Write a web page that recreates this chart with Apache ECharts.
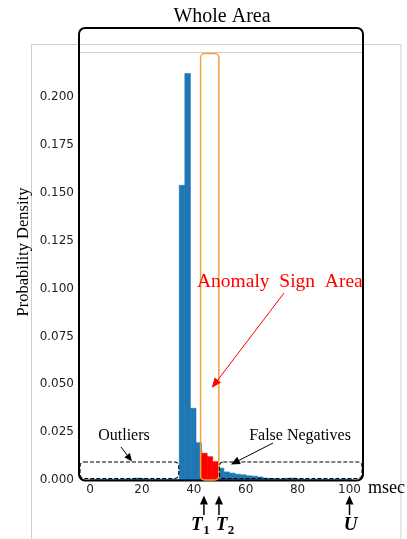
<!DOCTYPE html>
<html><head><meta charset="utf-8">
<script src="https://cdn.jsdelivr.net/npm/echarts@6/dist/echarts.min.js"></script>
<style>html,body{margin:0;padding:0;background:#fff}#c{width:407px;height:539px}</style>
</head><body><div id="c"></div>
<script>
// ---- data ----
const binStart = 0;
const binWidth = 2.15;
const density = [
  0.0003, 0.0003, 0.0003, 0.0003, 0.0003, 0.0003, 0.0004, 0.0005,
  0.0010, 0.0008, 0.0004, 0.0003, 0.0003, 0.0003, 0.0004, 0.0003,
  0.154, 0.2125, 0.0375, 0.0195, 0.0140, 0.0122, 0.0096,
  0.0062, 0.0042, 0.0036, 0.0030, 0.0027, 0.0022, 0.0020, 0.0016,
  0.0010, 0.0008, 0.0006, 0.0005, 0.0009, 0.0010, 0.0005, 0.0004,
  0.0003, 0.0003, 0.0003, 0.0003, 0.0003, 0.0003, 0.0003, 0.0003
];
const anomalyRange = [43.0, 49.45];
const outlierEnd = 34.4;
const markerNames = ['T', 'T', 'U'];
const markerSubs = ['1', '2', ''];
const markerValues = [43.9, 49.7, 100];
const xTicks = [0, 20, 40, 60, 80, 100];
const yTicks = [0, 0.025, 0.05, 0.075, 0.1, 0.125, 0.15, 0.175, 0.2];
const xRange = [-4.24, 105.2];
const yRange = [0, 0.2237];

// ---- build ----
const blueBins = [], redBins = [];
density.forEach((v, i) => {
  const s = binStart + i * binWidth, e = s + binWidth;
  const item = [s, e, v];
  if (s >= anomalyRange[0] - 1e-6 && e <= anomalyRange[1] + 1e-6) redBins.push(item);
  else blueBins.push(item);
});
function renderBar(color) {
  return function (params, api) {
    const p0 = api.coord([api.value(0), api.value(2)]);
    const p1 = api.coord([api.value(1), 0]);
    return { type: 'rect', shape: { x: p0[0], y: p0[1], width: p1[0] - p0[0], height: p1[1] - p0[1] },
      style: { fill: color, stroke: color, lineWidth: 0.6 } };
  };
}
const SERIF = 'Liberation Serif';
const chart = echarts.init(document.getElementById('c'), null, { renderer: 'canvas' });
chart.setOption({
  animation: false,
  backgroundColor: '#fff',
  grid: { left: 79, right: 44, top: 52, bottom: 59, containLabel: false },
  xAxis: {
    type: 'value', min: xRange[0], max: xRange[1],
    axisLine: { show: false }, splitLine: { show: false },
    axisTick: { show: false },
    axisLabel: { customValues: xTicks, margin: 4, fontFamily: 'DejaVu Sans', fontSize: 12, color: '#222' }
  },
  yAxis: {
    type: 'value', min: yRange[0], max: yRange[1],
    axisLine: { show: false }, splitLine: { show: false },
    axisTick: { show: false },
    axisLabel: { customValues: yTicks, margin: 5, fontFamily: 'DejaVu Sans', fontSize: 12, color: '#222',
      formatter: v => v.toFixed(3) }
  },
  series: [
    { type: 'custom', renderItem: renderBar('#1f77b4'), data: blueBins, encode: { x: [0, 1], y: 2 } },
    { type: 'custom', renderItem: renderBar('#ff0000'), data: redBins, encode: { x: [0, 1], y: 2 } }
  ]
});

function px(x) { return chart.convertToPixel({ xAxisIndex: 0 }, x); }
function py(y) { return chart.convertToPixel({ yAxisIndex: 0 }, y); }
function arrow(x1, y1, x2, y2, color, lw, hl, hw) {
  const a = Math.atan2(y2 - y1, x2 - x1);
  const bx = x2 - hl * Math.cos(a), by = y2 - hl * Math.sin(a);
  const ox = -Math.sin(a) * hw / 2, oy = Math.cos(a) * hw / 2;
  return [
    { type: 'line', z: 100, shape: { x1: x1, y1: y1, x2: bx, y2: by }, style: { stroke: color, lineWidth: lw } },
    { type: 'polygon', z: 100, shape: { points: [[x2, y2], [bx + ox, by + oy], [bx - ox, by - oy]] }, style: { fill: color } }
  ];
}
const y0 = py(0);
const left = px(xRange[0]), right = px(xRange[1]);
const g = [];
// outer light frame
g.push({ type: 'rect', z: 1, shape: { x: 31.5, y: 44.5, width: 369.5, height: 520 }, style: { fill: null, stroke: '#cfcfcf', lineWidth: 1 } });
g.push({ type: 'line', z: 1, shape: { x1: left, y1: 52.5, x2: right, y2: 52.5 }, style: { stroke: '#cfcfcf', lineWidth: 1 } });
// whole area box
g.push({ type: 'rect', z: 100, shape: { x: left, y: 28, width: right - left, height: y0 + 0.5 - 28, r: 6 }, style: { fill: null, stroke: '#000', lineWidth: 2 } });
g.push({ type: 'text', z: 100, x: (left + right) / 2 + 1, y: 17, style: { text: 'Whole Area', font: '20px "' + SERIF + '"', fill: '#000', align: 'center', verticalAlign: 'middle' } });
// y label
g.push({ type: 'text', z: 100, x: 24, y: 252, rotation: Math.PI / 2, style: { text: 'Probability Density', font: '16.5px "' + SERIF + '"', fill: '#000', align: 'center', verticalAlign: 'middle' } });
// msec
g.push({ type: 'text', z: 100, x: 368, y: 488, style: { text: 'msec', font: '18px "' + SERIF + '"', fill: '#000', align: 'left', verticalAlign: 'middle' } });
// anomaly box
const ax0 = px(anomalyRange[0]) - 1, ax1 = px(anomalyRange[1]) + 0.5;
g.push({ type: 'rect', z: 100, shape: { x: ax0, y: 53.5, width: ax1 - ax0, height: y0 - 53.5, r: 4 }, style: { fill: null, stroke: '#f7a03a', lineWidth: 1.5 } });
// dashed boxes
g.push({ type: 'rect', z: 100, shape: { x: left + 1, y: 462, width: px(outlierEnd) - 0.5 - left - 1, height: 16.5, r: 4 }, style: { fill: null, stroke: '#000', lineWidth: 1.1, lineDash: [4, 2] } });
g.push({ type: 'rect', z: 100, shape: { x: ax1 + 0.5, y: 462, width: right - 1 - ax1 - 0.5, height: 16.5, r: 4 }, style: { fill: null, stroke: '#000', lineWidth: 1.1, lineDash: [4, 2] } });
// labels
g.push({ type: 'text', z: 100, x: 124, y: 436, style: { text: 'Outliers', font: '16px "' + SERIF + '"', fill: '#000', align: 'center', verticalAlign: 'middle' } });
g.push(...arrow(121, 447, 132, 461.5, '#000', 1, 8, 7));
g.push({ type: 'text', z: 100, x: 300, y: 436, style: { text: 'False Negatives', font: '16px "' + SERIF + '"', fill: '#000', align: 'center', verticalAlign: 'middle' } });
g.push(...arrow(273, 443, 231, 464.5, '#000', 1, 9, 8));
g.push({ type: 'text', z: 100, x: 197, y: 282, style: { text: 'Anomaly  Sign  Area', font: '19.5px "' + SERIF + '"', fill: '#ff0000', align: 'left', verticalAlign: 'middle' } });
g.push(...arrow(284, 293, (ax0 + ax1) / 2 + 2, 388, '#ff0000', 1, 10, 8));
// markers
markerValues.forEach((v, i) => {
  const x = px(v);
  g.push(...arrow(x, 515, x, 495.5, '#000', 1.5, 9, 8));
  const sub = markerSubs[i];
  const tx = sub ? (i === 0 ? x - 7 : x + 2.5) : x + 1;
  g.push({ type: 'text', z: 100, x: tx, y: 525, style: { text: markerNames[i], font: 'italic bold 19px "' + SERIF + '"', fill: '#000', align: 'center', verticalAlign: 'middle' } });
  if (sub) g.push({ type: 'text', z: 100, x: tx + 9.5, y: 531, style: { text: sub, font: 'bold 13px "' + SERIF + '"', fill: '#000', align: 'center', verticalAlign: 'middle' } });
});
chart.setOption({ graphic: g });
</script>
</body></html>
